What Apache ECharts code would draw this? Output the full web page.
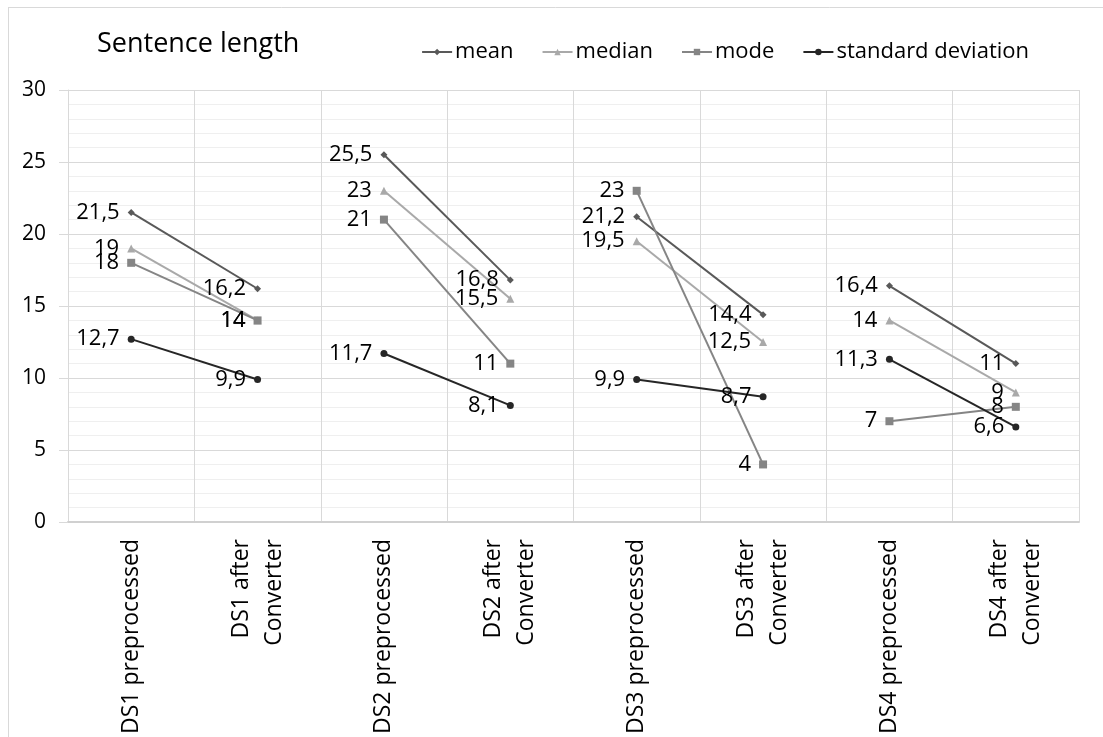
<!DOCTYPE html>
<html>
<head>
<meta charset="utf-8">
<script src="https://cdn.jsdelivr.net/npm/echarts@6/dist/echarts.min.js"></script>
<style>html,body{margin:0;padding:0;background:#fff}#c{width:1103px;height:737px}</style>
</head>
<body>
<div id="c"></div>
<script>
const categories = ['DS1 preprocessed', 'DS1 after\nConverter', 'DS2 preprocessed', 'DS2 after\nConverter',
  'DS3 preprocessed', 'DS3 after\nConverter', 'DS4 preprocessed', 'DS4 after\nConverter'];
const meanValues = [21.5, 16.2, 25.5, 16.8, 21.2, 14.4, 16.4, 11];
const medianValues = [19, 14, 23, 15.5, 19.5, 12.5, 14, 9];
const modeValues = [18, 14, 21, 11, 23, 4, 7, 8];
const sdValues = [12.7, 9.9, 11.7, 8.1, 9.9, 8.7, 11.3, 6.6];
const yTicks = [0, 5, 10, 15, 20, 25, 30];

const FONT = '"Open Sans", "Noto Sans", sans-serif';
const metrics = [
  { name: 'mean', values: meanValues, color: '#595959', symbol: 'diamond', size: 7 },
  { name: 'median', values: medianValues, color: '#a9a9a9', symbol: 'triangle', size: 8 },
  { name: 'mode', values: modeValues, color: '#858585', symbol: 'rect', size: 8 },
  { name: 'standard deviation', values: sdValues, color: '#262626', symbol: 'circle', size: 7 }
];

const series = [];
metrics.forEach(m => {
  for (let p = 0; p < categories.length / 2; p++) {
    series.push({
      name: m.name,
      type: 'line',
      data: m.values.map((v, j) => (j === 2 * p || j === 2 * p + 1) ? v : null),
      connectNulls: false,
      symbol: m.symbol,
      symbolSize: m.size,
      showAllSymbol: true,
      lineStyle: { color: m.color, width: 2 },
      itemStyle: { color: m.color },
      label: {
        show: true, position: 'left', distance: 8,
        fontFamily: FONT, fontSize: 22, color: '#000',
        formatter: d => String(d.value).replace('.', ',')
      },
      emphasis: { disabled: true },
      animation: false
    });
  }
});

const chart = echarts.init(document.getElementById('c'));
chart.setOption({
  backgroundColor: '#fff',
  animation: false,
  title: {
    text: 'Sentence length', left: 92, top: 26,
    textStyle: { fontFamily: FONT, fontSize: 27, fontWeight: 'normal', color: '#000' }
  },
  legend: {
    data: metrics.map(m => m.name),
    right: 69, top: 36,
    itemWidth: 30, itemHeight: 8, itemGap: 28,
    textStyle: { fontFamily: FONT, fontSize: 22, color: '#000', padding: [0, 0, 0, -2] }
  },
  grid: { left: 68, right: 24, top: 90, bottom: 214 },
  xAxis: {
    type: 'category',
    data: categories,
    boundaryGap: true,
    axisLine: { show: true, lineStyle: { color: '#d0d0d0', width: 2 } },
    axisTick: { show: false },
    splitLine: { show: true, interval: 0, lineStyle: { color: '#d9d9d9', width: 1 } },
    axisLabel: {
      interval: 0, rotate: 90, margin: 17,
      fontFamily: FONT, fontSize: 23, color: '#000', lineHeight: 33
    }
  },
  yAxis: {
    type: 'value', min: 0, max: 30, interval: 5,
    axisLine: { show: true, lineStyle: { color: '#d9d9d9' } },
    axisTick: { show: true, length: 9, lineStyle: { color: '#d9d9d9' } },
    axisLabel: { fontFamily: FONT, fontSize: 21, color: '#000', margin: 22 },
    splitLine: { show: true, lineStyle: { color: '#d9d9d9' } },
    minorTick: { show: false, splitNumber: 5 },
    minorSplitLine: { show: true, lineStyle: { color: '#efefef' } }
  },
  graphic: [
    { type: 'line', shape: { x1: 8, y1: 7.5, x2: 1103, y2: 7.5 }, style: { stroke: '#d9d9d9', lineWidth: 1 } },
    { type: 'line', shape: { x1: 8.5, y1: 7, x2: 8.5, y2: 737 }, style: { stroke: '#d9d9d9', lineWidth: 1 } }
  ],
  series: series
});
</script>
</body>
</html>
